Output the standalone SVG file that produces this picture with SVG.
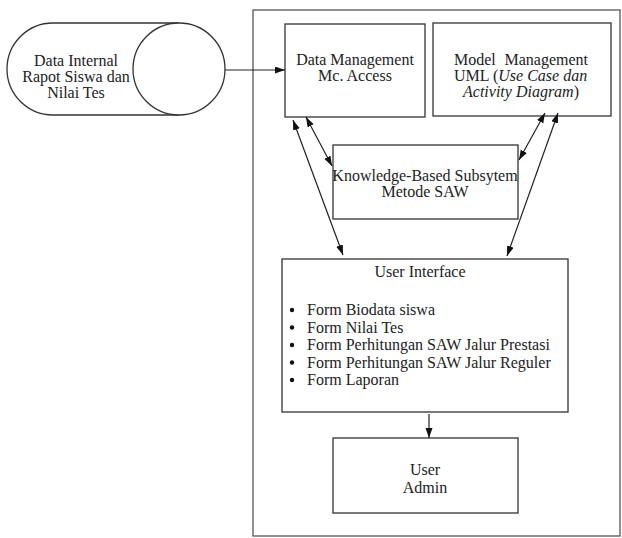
<svg xmlns="http://www.w3.org/2000/svg" width="622" height="538" viewBox="0 0 622 538">
<defs>
<style>
.box{fill:#fff;stroke:#333;stroke-width:1.3}
.frame{fill:#fff;stroke:#555;stroke-width:1.3}
.t{font-family:"Liberation Serif","Times New Roman",serif;font-size:16px;fill:#222}
.c{text-anchor:middle}
.i{font-style:italic}
.con{stroke:#222;stroke-width:1.2;fill:none}
</style>
<marker id="ah" markerWidth="10" markerHeight="8" refX="10" refY="3.5" orient="auto-start-reverse" markerUnits="userSpaceOnUse">
<path d="M0,0 L10,3.5 L0,7 z" fill="#111"/>
</marker>
</defs>
<rect width="622" height="538" fill="#fff"/>
<g id="frame"><rect class="frame" x="253" y="10" width="367" height="526"/></g>
<g id="data-internal">
<path class="box" d="M179,23 L53,23 A46,46 0 0 0 53,115 L179,115"/>
<circle class="box" cx="179" cy="69" r="46"/>
<text class="t c" x="76" y="66">Data Internal</text>
<text class="t c" x="76" y="82">Rapot Siswa dan</text>
<text class="t c" x="76" y="98">Nilai Tes</text>
</g>
<g id="data-management">
<rect class="box" x="285" y="24" width="140" height="93"/>
<text class="t c" x="355" y="65">Data Management</text>
<text class="t c" x="355" y="81">Mc. Access</text>
</g>
<g id="model-management">
<rect class="box" x="433" y="23" width="178" height="93"/>
<text class="t" x="454" y="65">Model</text>
<text class="t" x="588" y="65" text-anchor="end">Management</text>
<text class="t" x="454" y="81">UML (<tspan class="i">Use Case dan</tspan></text>
<text class="t c" x="521" y="97"><tspan class="i">Activity Diagram</tspan>)</text>
</g>
<g id="knowledge">
<rect class="box" x="333" y="145" width="185" height="74"/>
<text class="t c" x="425" y="181">Knowledge-Based Subsytem</text>
<text class="t c" x="425" y="197">Metode SAW</text>
</g>
<g id="user-interface">
<rect class="box" x="282" y="259" width="286" height="153"/>
<text class="t c" x="420" y="277">User Interface</text>
<g fill="#111">
<circle cx="292" cy="310" r="2.2"/>
<circle cx="292" cy="327.5" r="2.2"/>
<circle cx="292" cy="345" r="2.2"/>
<circle cx="292" cy="362.5" r="2.2"/>
<circle cx="292" cy="380" r="2.2"/>
</g>
<text class="t" x="307" y="315">Form Biodata siswa</text>
<text class="t" x="307" y="332.5">Form Nilai Tes</text>
<text class="t" x="307" y="350">Form Perhitungan SAW Jalur Prestasi</text>
<text class="t" x="307" y="367.5">Form Perhitungan SAW Jalur Reguler</text>
<text class="t" x="307" y="385">Form Laporan</text>
</g>
<g id="user-admin">
<rect class="box" x="333" y="438" width="185" height="75"/>
<text class="t c" x="425" y="475">User</text>
<text class="t c" x="425" y="493">Admin</text>
</g>
<g id="connectors">
<line class="con" x1="225" y1="70" x2="285" y2="70" marker-end="url(#ah)"/>
<line class="con" x1="293" y1="120" x2="343" y2="255" marker-start="url(#ah)" marker-end="url(#ah)"/>
<line class="con" x1="306" y1="117" x2="332" y2="166" marker-start="url(#ah)" marker-end="url(#ah)"/>
<line class="con" x1="545" y1="113" x2="519" y2="160" marker-start="url(#ah)" marker-end="url(#ah)"/>
<line class="con" x1="558" y1="113" x2="507" y2="256" marker-start="url(#ah)" marker-end="url(#ah)"/>
<line class="con" x1="429" y1="414" x2="429" y2="438" marker-end="url(#ah)"/>
</g>
</svg>
